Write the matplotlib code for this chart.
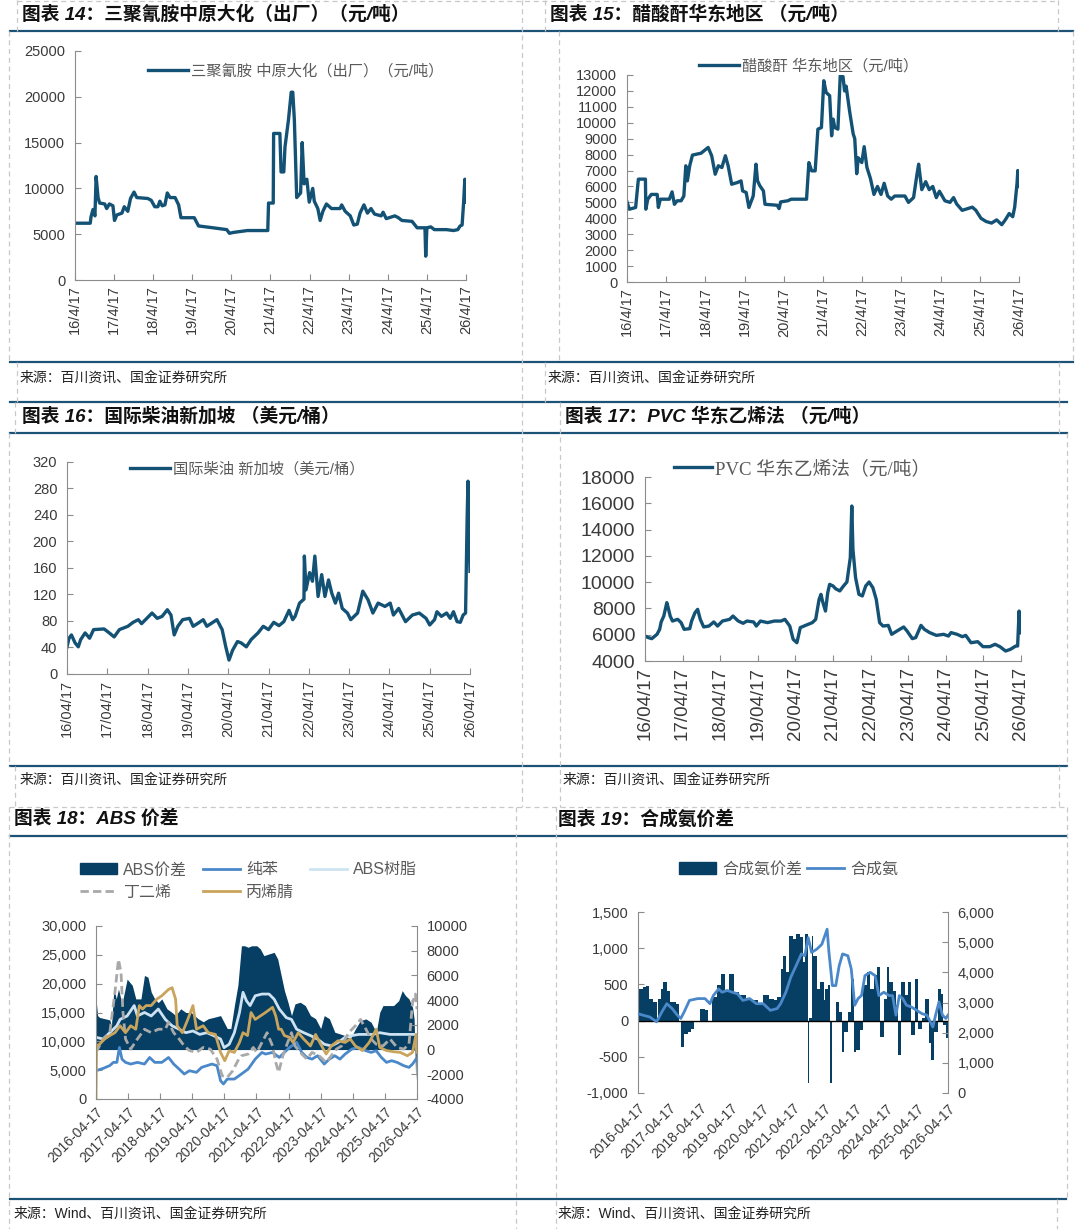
import numpy as np
import matplotlib.pyplot as plt
from matplotlib.lines import Line2D
from matplotlib.patches import Patch

plt.rcParams['font.family'] = ['Liberation Sans', 'Noto Sans CJK SC', 'DejaVu Sans']
plt.rcParams['axes.unicode_minus'] = False

# ---------------- 数据 ----------------
# 横轴统一用小数年份，2016.29 = 2016-04-17
year_ticks = [2016.29, 2017.29, 2018.29, 2019.29, 2020.29, 2021.29,
              2022.29, 2023.29, 2024.29, 2025.29, 2026.29]
lab_short = ['16/4/17', '17/4/17', '18/4/17', '19/4/17', '20/4/17', '21/4/17',
             '22/4/17', '23/4/17', '24/4/17', '25/4/17', '26/4/17']
lab_mid = ['16/04/17', '17/04/17', '18/04/17', '19/04/17', '20/04/17', '21/04/17',
           '22/04/17', '23/04/17', '24/04/17', '25/04/17', '26/04/17']
lab_long = ['2016-04-17', '2017-04-17', '2018-04-17', '2019-04-17', '2020-04-17',
            '2021-04-17', '2022-04-17', '2023-04-17', '2024-04-17', '2025-04-17',
            '2026-04-17']

# 图表14 三聚氰胺 中原大化（出厂）
t14 = [2016.29, 2016.68, 2016.70, 2016.75, 2016.80, 2016.83, 2016.88, 2016.92,
       2017.05, 2017.10, 2017.17, 2017.26, 2017.30, 2017.36, 2017.49, 2017.55,
       2017.64, 2017.71, 2017.80, 2017.87, 2018.15, 2018.24, 2018.33, 2018.41,
       2018.46, 2018.52, 2018.59, 2018.65, 2018.72, 2018.85, 2018.94, 2019.00,
       2019.34, 2019.45, 2019.82, 2020.17, 2020.24, 2020.35, 2020.70, 2021.22,
       2021.24, 2021.36, 2021.37, 2021.53, 2021.56, 2021.63, 2021.66, 2021.75,
       2021.82, 2021.86, 2021.90, 2021.96, 2022.06, 2022.10, 2022.15, 2022.22,
       2022.28, 2022.37, 2022.41, 2022.50, 2022.56, 2022.63, 2022.72, 2022.85,
       2023.07, 2023.11, 2023.20, 2023.33, 2023.42, 2023.51, 2023.58, 2023.68,
       2023.77, 2023.86, 2023.95, 2024.12, 2024.17, 2024.25, 2024.47, 2024.56,
       2024.65, 2024.91, 2025.04, 2025.24, 2025.26, 2025.29, 2025.39, 2025.48,
       2025.79, 2025.97, 2026.08, 2026.14, 2026.19, 2026.23, 2026.26, 2026.29]
v14 = [6200, 6200, 6900, 7700, 7000, 11300, 9000, 8400,
       8300, 7800, 8300, 8100, 6500, 7100, 7300, 8000,
       7500, 8900, 9600, 9000, 8900, 8700, 8000, 8000,
       8600, 8100, 8200, 9500, 9000, 9000, 8200, 6800,
       6800, 5900, 5700, 5500, 5100, 5200, 5400, 5400,
       8400, 8400, 16000, 16000, 11800, 11800, 14500, 17500,
       20500, 20500, 17500, 9000, 9500, 15000, 10500, 11000,
       8500, 10000, 8600, 7800, 6500, 7500, 8300, 7800,
       7800, 8200, 7500, 7000, 6000, 6100, 7300, 8200,
       7300, 7800, 7200, 7000, 7400, 6700, 7000, 6800,
       6500, 6400, 5700, 5700, 2600, 5700, 5800, 5500,
       5500, 5400, 5500, 5900, 6000, 8500, 11000, 8500]

# 图表15 醋酸酐 华东地区
t15 = [2016.29, 2016.35, 2016.51, 2016.58, 2016.76, 2016.77, 2016.82, 2016.91, 2017.06, 2017.09,
       2017.14, 2017.37, 2017.44, 2017.50, 2017.57, 2017.67, 2017.74, 2017.79, 2017.83, 2017.89,
       2017.96, 2018.18, 2018.36, 2018.45, 2018.54, 2018.62, 2018.71, 2018.80, 2018.87, 2018.96,
       2019.11, 2019.20, 2019.24, 2019.33, 2019.40, 2019.51, 2019.58, 2019.62, 2019.68, 2019.77,
       2019.81, 2020.12, 2020.17, 2020.21, 2020.39, 2020.48, 2020.87, 2020.93, 2021.00, 2021.09,
       2021.16, 2021.25, 2021.31, 2021.37, 2021.46, 2021.51, 2021.55, 2021.59, 2021.67, 2021.73,
       2021.80, 2021.84, 2021.88, 2021.97, 2022.06, 2022.10, 2022.15, 2022.19, 2022.28, 2022.34,
       2022.41, 2022.50, 2022.59, 2022.68, 2022.77, 2022.85, 2022.94, 2023.03, 2023.12, 2023.38,
       2023.47, 2023.60, 2023.69, 2023.73, 2023.81, 2023.91, 2024.00, 2024.09, 2024.18, 2024.26,
       2024.40, 2024.53, 2024.62, 2024.70, 2024.84, 2024.97, 2025.10, 2025.19, 2025.32, 2025.45,
       2025.59, 2025.72, 2025.85, 2025.94, 2026.04, 2026.13, 2026.18, 2026.24, 2026.26, 2026.29]
v15 = [5030, 4570, 4680, 6460, 6460, 4570, 5200, 5500, 5500, 4680,
       5200, 5200, 5660, 4880, 5100, 5100, 5400, 7300, 6350, 7300,
       7970, 8090, 8450, 7930, 6770, 7300, 7190, 7930, 7300, 6140,
       6250, 6350, 5720, 5620, 4680, 5400, 7400, 6350, 6040, 5720,
       4880, 4820, 4610, 5030, 5100, 5200, 5200, 7500, 6980, 6980,
       9600, 9700, 12640, 11900, 11700, 9180, 10230, 9700, 9600, 12960,
       12900, 12000, 12300, 10700, 9300, 9000, 6800, 7800, 7500, 8500,
       7200, 6500, 5500, 6000, 5500, 6200, 5400, 5200, 5400, 5400,
       5000, 5300, 6800, 7400, 5800, 6300, 5800, 6000, 5300, 5700,
       5100, 5000, 5300, 4900, 4500, 4600, 4700, 4500, 4000, 3800,
       3700, 3900, 3600, 3900, 4300, 4100, 4700, 6200, 7000, 6000]

# 图表16 国际柴油 新加坡
t16 = [2016.29, 2016.34, 2016.40, 2016.49, 2016.57, 2016.63, 2016.74, 2016.85, 2016.95, 2017.21,
       2017.34, 2017.46, 2017.59, 2017.80, 2017.93, 2018.06, 2018.14, 2018.27, 2018.40, 2018.53,
       2018.65, 2018.78, 2018.87, 2018.95, 2019.04, 2019.16, 2019.33, 2019.42, 2019.55, 2019.67,
       2019.76, 2020.01, 2020.14, 2020.23, 2020.31, 2020.40, 2020.52, 2020.61, 2020.74, 2020.86,
       2021.03, 2021.16, 2021.29, 2021.42, 2021.55, 2021.67, 2021.80, 2021.89, 2021.95, 2022.06,
       2022.17, 2022.18, 2022.22, 2022.31, 2022.38, 2022.44, 2022.52, 2022.61, 2022.69, 2022.78,
       2022.86, 2022.95, 2023.03, 2023.12, 2023.25, 2023.33, 2023.50, 2023.63, 2023.76, 2023.88,
       2024.01, 2024.18, 2024.31, 2024.39, 2024.52, 2024.69, 2024.86, 2025.03, 2025.20, 2025.29,
       2025.41, 2025.47, 2025.58, 2025.71, 2025.80, 2025.88, 2025.97, 2026.05, 2026.12, 2026.18,
       2026.22, 2026.24, 2026.27, 2026.29]
v16 = [41, 54, 59, 47, 41, 52, 62, 54, 67, 68,
       62, 56, 67, 72, 78, 82, 76, 84, 92, 84,
       87, 97, 89, 59, 72, 82, 84, 72, 77, 82,
       72, 82, 67, 41, 21, 36, 49, 47, 41, 52,
       62, 72, 67, 78, 73, 79, 96, 82, 87, 107,
       113, 178, 127, 153, 140, 178, 117, 150, 117, 142,
       122, 107, 122, 99, 92, 82, 92, 125, 112, 92,
       107, 102, 107, 89, 99, 79, 89, 92, 84, 74,
       82, 94, 87, 92, 84, 94, 79, 78, 89, 92,
       238, 291, 213, 155]

# 图表17 PVC 华东乙烯法
t17 = [2016.29, 2016.38, 2016.47, 2016.61, 2016.68, 2016.72, 2016.79, 2016.87, 2016.90, 2016.96,
       2017.02, 2017.16, 2017.25, 2017.33, 2017.48, 2017.53, 2017.62, 2017.69, 2017.76, 2017.85,
       2017.99, 2018.12, 2018.22, 2018.35, 2018.54, 2018.63, 2018.77, 2018.90, 2019.00, 2019.18,
       2019.25, 2019.36, 2019.55, 2019.73, 2019.91, 2020.01, 2020.14, 2020.23, 2020.33, 2020.42,
       2020.56, 2020.74, 2020.83, 2020.92, 2020.97, 2021.01, 2021.09, 2021.15, 2021.20, 2021.29,
       2021.36, 2021.47, 2021.57, 2021.66, 2021.75, 2021.79, 2021.82, 2021.89, 2021.98, 2022.07,
       2022.16, 2022.25, 2022.35, 2022.44, 2022.53, 2022.62, 2022.76, 2022.85, 2022.99, 2023.17,
       2023.26, 2023.40, 2023.49, 2023.63, 2023.72, 2023.86, 2024.04, 2024.23, 2024.36, 2024.43,
       2024.59, 2024.73, 2024.82, 2024.96, 2025.14, 2025.28, 2025.46, 2025.60, 2025.73, 2025.88,
       2026.01, 2026.15, 2026.20, 2026.24, 2026.26, 2026.29]
v17 = [5900, 5780, 5700, 6030, 6410, 6970, 7420, 8440, 8130, 7420,
       7040, 7170, 6920, 6410, 6460, 7040, 7680, 7930, 7170, 6590,
       6660, 6970, 6660, 7040, 7170, 7420, 7040, 6870, 7040, 6970,
       6660, 7040, 6920, 7040, 7040, 7170, 6660, 5650, 5390, 6540,
       6710, 6920, 7170, 8690, 9070, 8560, 7800, 9200, 9830, 9710,
       9500, 9330, 9710, 10010, 11860, 15790, 12500, 10340, 9070, 8950,
       9710, 10010, 9580, 8690, 6920, 6660, 6710, 6030, 6280, 6590,
       6280, 5700, 5780, 6710, 6410, 6160, 5950, 6030, 5900, 6160,
       6030, 5850, 5950, 5390, 5470, 5090, 5090, 5270, 5090, 4760,
       4890, 5140, 5140, 7800, 6410, 6160]

# 图表18 ABS价差（右轴）
t18_spread = [2016.29, 2016.34, 2016.40, 2016.72, 2016.77, 2016.85, 2016.92, 2016.99, 2017.10, 2017.26,
              2017.42, 2017.53, 2017.69, 2017.80, 2017.91, 2018.01, 2018.12, 2018.23, 2018.34, 2018.50,
              2018.66, 2018.77, 2018.93, 2019.09, 2019.25, 2019.47, 2019.63, 2019.79, 2019.95, 2020.17,
              2020.28, 2020.38, 2020.49, 2020.60, 2020.71, 2020.82, 2020.92, 2021.03, 2021.14, 2021.30,
              2021.41, 2021.52, 2021.68, 2021.84, 2021.95, 2022.06, 2022.16, 2022.27, 2022.38, 2022.49,
              2022.65, 2022.81, 2022.97, 2023.13, 2023.29, 2023.40, 2023.56, 2023.73, 2023.89, 2024.05,
              2024.21, 2024.37, 2024.53, 2024.70, 2024.86, 2025.02, 2025.13, 2025.23, 2025.40, 2025.56,
              2025.72, 2025.83, 2025.93, 2026.04, 2026.15, 2026.20, 2026.25, 2026.29]
abs_spread = [4100, 2750, 2600, 2400, 1900, 5000, 4100, 4900, 3700, 5700,
              5200, 4100, 4100, 6000, 5850, 4650, 4100, 3800, 4100, 3300,
              3000, 2750, 3300, 3000, 3000, 2500, 2250, 2500, 2600, 2750,
              2200, 1700, 1700, 3550, 5200, 8400, 8400, 8280, 8400, 8400,
              8140, 7600, 7740, 7870, 7330, 5980, 4770, 3830, 2750, 3700,
              3830, 3560, 2750, 2500, 1700, 2750, 2500, 1400, 1270, 1130,
              860, 1670, 2350, 2480, 2210, 1400, 3020, 3560, 3560, 3560,
              3960, 4770, 4370, 4100, 3420, 2480, -2500, 2600]

# 纯苯（左轴）
t18_benz = [2016.29, 2016.51, 2016.72, 2016.83, 2016.94, 2017.02, 2017.10, 2017.21, 2017.37, 2017.58,
            2017.80, 2017.96, 2018.12, 2018.34, 2018.55, 2018.71, 2018.88, 2019.04, 2019.20, 2019.42,
            2019.58, 2019.74, 2019.90, 2020.06, 2020.17, 2020.26, 2020.38, 2020.60, 2020.82, 2021.03,
            2021.25, 2021.46, 2021.57, 2021.79, 2022.00, 2022.16, 2022.32, 2022.54, 2022.70, 2022.86,
            2023.02, 2023.19, 2023.40, 2023.56, 2023.73, 2023.89, 2024.05, 2024.26, 2024.48, 2024.70,
            2024.86, 2025.02, 2025.18, 2025.34, 2025.50, 2025.67, 2025.88, 2026.04, 2026.15, 2026.26]
benzene = [4900, 5300, 5800, 6350, 6350, 8950, 6900, 6350, 6060, 6350,
           6060, 7200, 6350, 6350, 7200, 6060, 5190, 4330, 4900, 4620,
           5480, 5770, 6060, 5770, 3170, 2600, 3460, 3460, 4330, 5190,
           6920, 8080, 7790, 8080, 7210, 8080, 8940, 9810, 8080, 7210,
           6920, 7500, 6060, 6920, 7500, 6920, 7790, 8660, 8940, 8370,
           8080, 8370, 7210, 6350, 6640, 6350, 5770, 5480, 6060, 6920]

# ABS树脂（左轴）
t18_abs = [2016.29, 2016.51, 2016.72, 2016.94, 2017.04, 2017.26, 2017.48, 2017.58, 2017.80, 2018.01,
           2018.23, 2018.45, 2018.66, 2018.88, 2019.09, 2019.31, 2019.52, 2019.74, 2019.95, 2020.17,
           2020.28, 2020.44, 2020.60, 2020.76, 2020.87, 2020.98, 2021.09, 2021.25, 2021.46, 2021.68,
           2021.84, 2022.00, 2022.22, 2022.38, 2022.54, 2022.76, 2022.97, 2023.19, 2023.40, 2023.62,
           2023.83, 2024.05, 2024.26, 2024.48, 2024.70, 2024.91, 2025.13, 2025.45, 2026.29]
abs_resin = [10700, 10400, 11500, 12700, 13800, 14400, 16200, 14400, 15000, 14400,
             15600, 13800, 12700, 12100, 11500, 11800, 11200, 11500, 11000, 10400,
             8900, 9500, 11500, 15000, 18500, 17000, 16200, 17900, 18200, 18200,
             17300, 15600, 14100, 13800, 12100, 11500, 11000, 10400, 9500, 9200,
             9800, 10700, 11000, 11200, 11200, 11200, 11500, 11200, 11200]

# 丁二烯（左轴）
t18_bd = [2016.29, 2016.51, 2016.72, 2016.88, 2016.99, 2017.07, 2017.13, 2017.21, 2017.37, 2017.58,
          2017.80, 2018.01, 2018.23, 2018.45, 2018.55, 2018.71, 2018.88, 2019.04, 2019.20, 2019.42,
          2019.63, 2019.85, 2020.06, 2020.22, 2020.38, 2020.55, 2020.71, 2020.82, 2021.03, 2021.19,
          2021.30, 2021.46, 2021.62, 2021.79, 2021.89, 2021.98, 2022.11, 2022.22, 2022.38, 2022.49,
          2022.65, 2022.86, 2023.02, 2023.24, 2023.46, 2023.62, 2023.78, 2023.94, 2024.16, 2024.37,
          2024.53, 2024.70, 2024.86, 2025.02, 2025.23, 2025.45, 2025.67, 2025.88, 2026.04, 2026.15,
          2026.24, 2026.29]
butadiene = [8080, 10400, 11500, 18500, 24200, 21900, 15000, 10400, 8650, 10400,
             12100, 11500, 12100, 12100, 13300, 11500, 10400, 9200, 8400, 8080,
             8940, 8650, 6920, 4040, 3750, 4900, 6640, 7500, 7790, 8940,
             8080, 9810, 11500, 9200, 6350, 4620, 7500, 9200, 11500, 9200,
             8080, 6920, 8080, 7500, 6350, 7500, 8650, 9200, 11500, 12700,
             13800, 12100, 10400, 9500, 9200, 10400, 8940, 8650, 9500, 16700,
             18200, 15600]

# 丙烯腈（左轴）
t18_an = [2016.29, 2016.31, 2016.40, 2016.56, 2016.72, 2016.88, 2017.04, 2017.21, 2017.37, 2017.53,
          2017.64, 2017.74, 2017.85, 2018.01, 2018.18, 2018.34, 2018.55, 2018.66, 2018.77, 2018.82,
          2018.98, 2019.15, 2019.31, 2019.42, 2019.63, 2019.79, 2020.01, 2020.17, 2020.30, 2020.44,
          2020.60, 2020.76, 2020.87, 2021.01, 2021.12, 2021.25, 2021.41, 2021.57, 2021.79, 2021.89,
          2021.98, 2022.06, 2022.16, 2022.32, 2022.43, 2022.59, 2022.76, 2022.97, 2023.13, 2023.29,
          2023.46, 2023.62, 2023.83, 2024.05, 2024.21, 2024.37, 2024.59, 2024.80, 2025.02, 2025.13,
          2025.34, 2025.56, 2025.77, 2025.99, 2026.15, 2026.26, 2026.29]
acrylonitrile = [0, 9230, 9500, 10400, 11000, 11500, 12700, 11500, 12700, 12100,
                 16200, 15600, 16200, 16200, 17300, 17900, 19000, 19300, 17300, 12700,
                 11500, 13800, 16200, 12100, 12700, 11500, 11200, 8080, 6640, 8370,
                 8080, 9810, 11500, 11000, 15000, 13800, 14400, 15000, 15900, 14400,
                 12100, 12100, 11000, 10700, 9800, 11500, 10400, 9200, 11200, 9500,
                 7800, 9200, 10100, 9800, 10400, 9200, 8400, 9800, 12100, 8940,
                 8400, 8200, 8080, 7500, 8080, 11200, 8080]

# 图表19 合成氨价差（左轴，柱）
t19_spread = [2016.29, 2016.45, 2016.56, 2016.65, 2016.78, 2016.89, 2016.95, 2017.02, 2017.11, 2017.22,
              2017.33, 2017.50, 2017.61, 2017.67, 2017.78, 2017.89, 2018.00, 2018.11, 2018.28, 2018.45,
              2018.56, 2018.67, 2018.83, 2018.98, 2019.11, 2019.22, 2019.39, 2019.56, 2019.78, 2019.95,
              2020.17, 2020.33, 2020.50, 2020.67, 2020.78, 2020.89, 2020.98, 2021.06, 2021.17, 2021.28,
              2021.39, 2021.50, 2021.61, 2021.69, 2021.76, 2021.82, 2021.89, 2021.95, 2022.06, 2022.17,
              2022.28, 2022.33, 2022.42, 2022.48, 2022.55, 2022.67, 2022.78, 2022.87, 2022.95, 2023.06,
              2023.17, 2023.25, 2023.33, 2023.45, 2023.56, 2023.67, 2023.78, 2023.89, 2024.00, 2024.11,
              2024.22, 2024.31, 2024.39, 2024.50, 2024.61, 2024.69, 2024.78, 2024.89, 2025.00, 2025.11,
              2025.22, 2025.33, 2025.45, 2025.56, 2025.69, 2025.75, 2025.83, 2025.98, 2026.06, 2026.13,
              2026.22, 2026.29]
nh3_spread = [440, 460, 480, 300, 255, 0, 300, 440, 540, 415,
              255, 230, 0, -360, -180, -155, -110, 0, 165, 140,
              0, 325, 485, 645, 395, 645, 395, 350, 300, 280,
              230, 350, 300, 280, 325, 715, 895, 670, 1170, 1125,
              1190, 1150, 805, 1190, -865, 30, 1170, 895, 440, 530,
              280, 440, 485, -865, 0, 255, 120, -430, -155, 120,
              575, -430, -405, -130, 485, 670, 440, 625, 735, -225,
              300, 735, 530, 415, 210, -475, 530, 350, 530, -200,
              575, -110, 30, 300, -315, -545, -155, 440, 370, -65,
              -245, -155]

# 合成氨（右轴，线）
t19_nh3 = [2016.29, 2016.45, 2016.67, 2016.89, 2017.06, 2017.22, 2017.39, 2017.56, 2017.67, 2017.78,
           2017.95, 2018.22, 2018.45, 2018.61, 2018.72, 2018.89, 2019.00, 2019.17, 2019.33, 2019.50,
           2019.67, 2019.89, 2020.11, 2020.33, 2020.56, 2020.78, 2020.89, 2021.06, 2021.22, 2021.39,
           2021.56, 2021.67, 2021.78, 2021.89, 2022.06, 2022.22, 2022.39, 2022.45, 2022.56, 2022.67,
           2022.78, 2022.89, 2023.06, 2023.17, 2023.28, 2023.39, 2023.50, 2023.61, 2023.78, 2023.94,
           2024.06, 2024.22, 2024.39, 2024.50, 2024.61, 2024.72, 2024.83, 2024.95, 2025.11, 2025.28,
           2025.45, 2025.61, 2025.72, 2025.80, 2025.89, 2026.00, 2026.11, 2026.22, 2026.29]
nh3 = [2630, 2580, 2520, 2360, 2690, 2960, 2800, 2580, 2470, 2690,
       3070, 3130, 3130, 2960, 3230, 3450, 3340, 3400, 3340, 3290,
       3070, 3130, 2960, 2960, 2740, 2800, 2960, 3340, 3840, 4220,
       4610, 4550, 5150, 4660, 4770, 4930, 5430, 4660, 3560, 3560,
       4220, 4610, 4550, 4110, 2910, 3130, 3230, 3890, 4000, 3890,
       3230, 3340, 3230, 3230, 2580, 3230, 3130, 2910, 2850, 2740,
       2630, 2580, 2360, 2190, 2580, 3020, 2580, 2470, 2580]

# ---------------- 画布 ----------------
W, H = 1080, 1229
fig = plt.figure(figsize=(W / 100, H / 100), dpi=100)

LINE = '#145275'
NAVY = '#063f63'
BLUE = '#4a88c9'
LIGHT = '#cde3f3'
GREY = '#a9a9a9'
GOLD = '#c9a45c'
RULE = '#1d5277'
DASH = '#c8c8c8'
AXC = '#8c8c8c'
TXT = '#3a3a3a'
LEG = '#5a5a5a'


def fx(x):
    return x / W


def fy(y):
    return 1 - y / H


def add_ax(x0, y0, x1, y1):
    return fig.add_axes([fx(x0), fy(y1), (x1 - x0) / W, (y1 - y0) / H])


def style(ax, labels, xfs, yfs, rot=90):
    for s in ['top', 'right']:
        ax.spines[s].set_visible(False)
    for s in ['left', 'bottom']:
        ax.spines[s].set_color(AXC)
        ax.spines[s].set_linewidth(0.8)
    ax.set_xlim(year_ticks[0], year_ticks[-1])
    ax.set_xticks(year_ticks)
    if rot == 90:
        ax.set_xticklabels(labels, rotation=90, fontsize=xfs, color=TXT)
    else:
        ax.set_xticklabels(labels, rotation=45, ha='right', rotation_mode='anchor',
                           fontsize=xfs, color=TXT)
    ax.tick_params(axis='x', direction='in', length=4, color=AXC, pad=4)
    ax.tick_params(axis='y', direction='in', length=4, color=AXC,
                   labelsize=yfs, labelcolor=TXT, pad=7)


def legend_at(ax, handles, labels, x, y, fs=11, ncol=1, **kw):
    ax.legend(handles, labels, loc='center left', bbox_to_anchor=(fx(x), fy(y)),
              bbox_transform=fig.transFigure, frameon=False, fontsize=fs,
              ncol=ncol, borderpad=0, borderaxespad=0, labelcolor=LEG, **kw)


# 框线：蓝色横线 + 灰色虚线
rules = [(10, 1073, 31), (10, 1073, 362), (10, 1067, 402), (10, 1067, 433),
         (10, 1067, 766), (10, 1066, 836), (10, 1066, 1199)]
for x0, x1, y in rules:
    fig.add_artist(Line2D([fx(x0), fx(x1)], [fy(y), fy(y)], color=RULE, lw=1.6))

vdash = [(17, 0, 31), (9, 31, 362), (17, 362, 402), (522, 0, 807), (545, 0, 31),
         (559, 31, 362), (545, 362, 402), (1058, 0, 31), (1073, 31, 362), (1059, 362, 402),
         (15, 402, 433), (9, 433, 766), (15, 766, 807), (560, 402, 807), (1059, 402, 433),
         (1067, 433, 766), (1059, 766, 807), (9, 807, 1229), (516, 807, 1229),
         (556, 807, 1229), (1067, 807, 1199), (1057, 1199, 1229)]
for x, y0, y1 in vdash:
    fig.add_artist(Line2D([fx(x), fx(x)], [fy(y0), fy(y1)], color=DASH, lw=0.9, ls=(0, (4, 3))))
for x0, x1, y in [(17, 1058, 1), (9, 1067, 807)]:
    fig.add_artist(Line2D([fx(x0), fx(x1)], [fy(y), fy(y)], color=DASH, lw=0.9, ls=(0, (4, 3))))

titles = [(22, 14, '图表 14：三聚氰胺中原大化（出厂）（元/吨）'),
          (550, 14, '图表 15：醋酸酐华东地区 （元/吨）'),
          (22, 416, '图表 16：国际柴油新加坡 （美元/桶）'),
          (565, 416, '图表 17：PVC 华东乙烯法 （元/吨）'),
          (14, 819, '图表 18：ABS 价差'),
          (558, 819, '图表 19：合成氨价差')]
for x, y, s in titles:
    fig.text(fx(x), fy(y), s, fontsize=13.5, fontweight='bold', style='italic',
             ha='left', va='center', color='#111111')

src1 = '来源：百川资讯、国金证券研究所'
src2 = '来源：Wind、百川资讯、国金证券研究所'
for x, y, s in [(20, 378, src1), (548, 378, src1), (20, 780, src1), (563, 780, src1),
                (14, 1214, src2), (558, 1214, src2)]:
    fig.text(fx(x), fy(y), s, fontsize=10, ha='left', va='center', color='#222222')

# ---------------- 图表14 ----------------
ax = add_ax(75, 51, 466, 280)
ln, = ax.plot(t14, v14, color=LINE, lw=2.4)
ax.set_ylim(0, 25000)
ax.set_yticks(range(0, 25001, 5000))
style(ax, lab_short, 10.5, 10.5)
legend_at(ax, [ln], ['三聚氰胺 中原大化（出厂）（元/吨）'], 148, 71, handlelength=2.6, handletextpad=0.2)

# ---------------- 图表15 ----------------
ax = add_ax(627, 75, 1019, 282)
ln, = ax.plot(t15, v15, color=LINE, lw=2.4)
ax.set_ylim(0, 13000)
ax.set_yticks(range(0, 13001, 1000))
style(ax, lab_short, 10.5, 10.5)
legend_at(ax, [ln], ['醋酸酐 华东地区（元/吨）'], 699, 66, handlelength=2.6, handletextpad=0.2)

# ---------------- 图表16 ----------------
ax = add_ax(67, 462, 470, 674)
ln, = ax.plot(t16, v16, color=LINE, lw=2.4)
ax.set_ylim(0, 320)
ax.set_yticks(range(0, 321, 40))
style(ax, lab_mid, 10.5, 10.5)
legend_at(ax, [ln], ['国际柴油 新加坡（美元/桶）'], 130, 469, handlelength=2.6, handletextpad=0.2)

# ---------------- 图表17 ----------------
ax = add_ax(645, 477, 1021, 661)
ln, = ax.plot(t17, v17, color=LINE, lw=2.4)
ax.set_ylim(4000, 18000)
ax.set_yticks(range(4000, 18001, 2000))
style(ax, lab_mid, 13.5, 14)
ax.legend([ln], ['PVC 华东乙烯法（元/吨）'], loc='center left',
          bbox_to_anchor=(fx(674), fy(469)), bbox_transform=fig.transFigure,
          frameon=False, borderpad=0, borderaxespad=0, labelcolor=LEG,
          prop={'family': ['Liberation Serif', 'Noto Sans CJK SC'], 'size': 13.5},
          handlelength=2.0, handletextpad=0.2)

# ---------------- 图表18 ----------------
ax = add_ax(96, 926, 417, 1099)
axr = ax.twinx()
axr.fill_between(t18_spread, abs_spread, 0, color=NAVY, lw=0)
axr.set_ylim(-4000, 10000)
axr.set_yticks(range(-4000, 10001, 2000))
l1, = ax.plot(t18_benz, benzene, color=BLUE, lw=2)
l2, = ax.plot(t18_abs, abs_resin, color=LIGHT, lw=2)
l3, = ax.plot(t18_bd, butadiene, color=GREY, lw=2, ls=(0, (3, 1.5)))
l4, = ax.plot(t18_an, acrylonitrile, color=GOLD, lw=2)
ax.set_ylim(0, 30000)
ax.set_yticks(range(0, 30001, 5000))
ax.set_yticklabels(['{:,}'.format(v) for v in range(0, 30001, 5000)])
ax.set_zorder(axr.get_zorder() + 1)
ax.patch.set_visible(False)
style(ax, lab_long, 10, 10.5, rot=45)
for s in ['top', 'left', 'bottom']:
    axr.spines[s].set_visible(False)
axr.spines['right'].set_color(AXC)
axr.spines['right'].set_linewidth(0.8)
axr.tick_params(axis='y', direction='in', length=4, color=AXC, labelsize=10.5,
                labelcolor=TXT, pad=7)
legend_at(ax, [Patch(color=NAVY), l3, l1, l4, l2],
          ['ABS价差', '丁二烯', '纯苯', '丙烯腈', 'ABS树脂'], 80, 881, fs=11.5, ncol=3,
          handlelength=2.3, handletextpad=0.4, columnspacing=1.0, labelspacing=0.45)

# ---------------- 图表19 ----------------
ax = add_ax(638, 912, 948, 1093)
ax.fill_between(t19_spread, nh3_spread, 0, step='post', color=NAVY, lw=0)
ax.axhline(0, color='black', lw=1)
ax.set_ylim(-1000, 1500)
ax.set_yticks(range(-1000, 1501, 500))
ax.set_yticklabels(['{:,}'.format(v) for v in range(-1000, 1501, 500)])
style(ax, lab_long, 10, 10.5, rot=45)
ax.spines['bottom'].set_visible(False)
ax.tick_params(axis='x', length=0, pad=6)
axr = ax.twinx()
l1, = axr.plot(t19_nh3, nh3, color=BLUE, lw=2)
axr.set_ylim(0, 6000)
axr.set_yticks(range(0, 6001, 1000))
axr.set_yticklabels(['{:,}'.format(v) for v in range(0, 6001, 1000)])
for s in ['top', 'left', 'bottom']:
    axr.spines[s].set_visible(False)
axr.spines['right'].set_color(AXC)
axr.spines['right'].set_linewidth(0.8)
axr.tick_params(axis='y', direction='in', length=4, color=AXC, labelsize=10.5,
                labelcolor=TXT, pad=7)
legend_at(ax, [Patch(color=NAVY), l1], ['合成氨价差', '合成氨'], 679, 869, fs=11.5, ncol=2,
          handlelength=2.3, handletextpad=0.4, columnspacing=0.3)

fig.savefig('out.png', dpi=100)
